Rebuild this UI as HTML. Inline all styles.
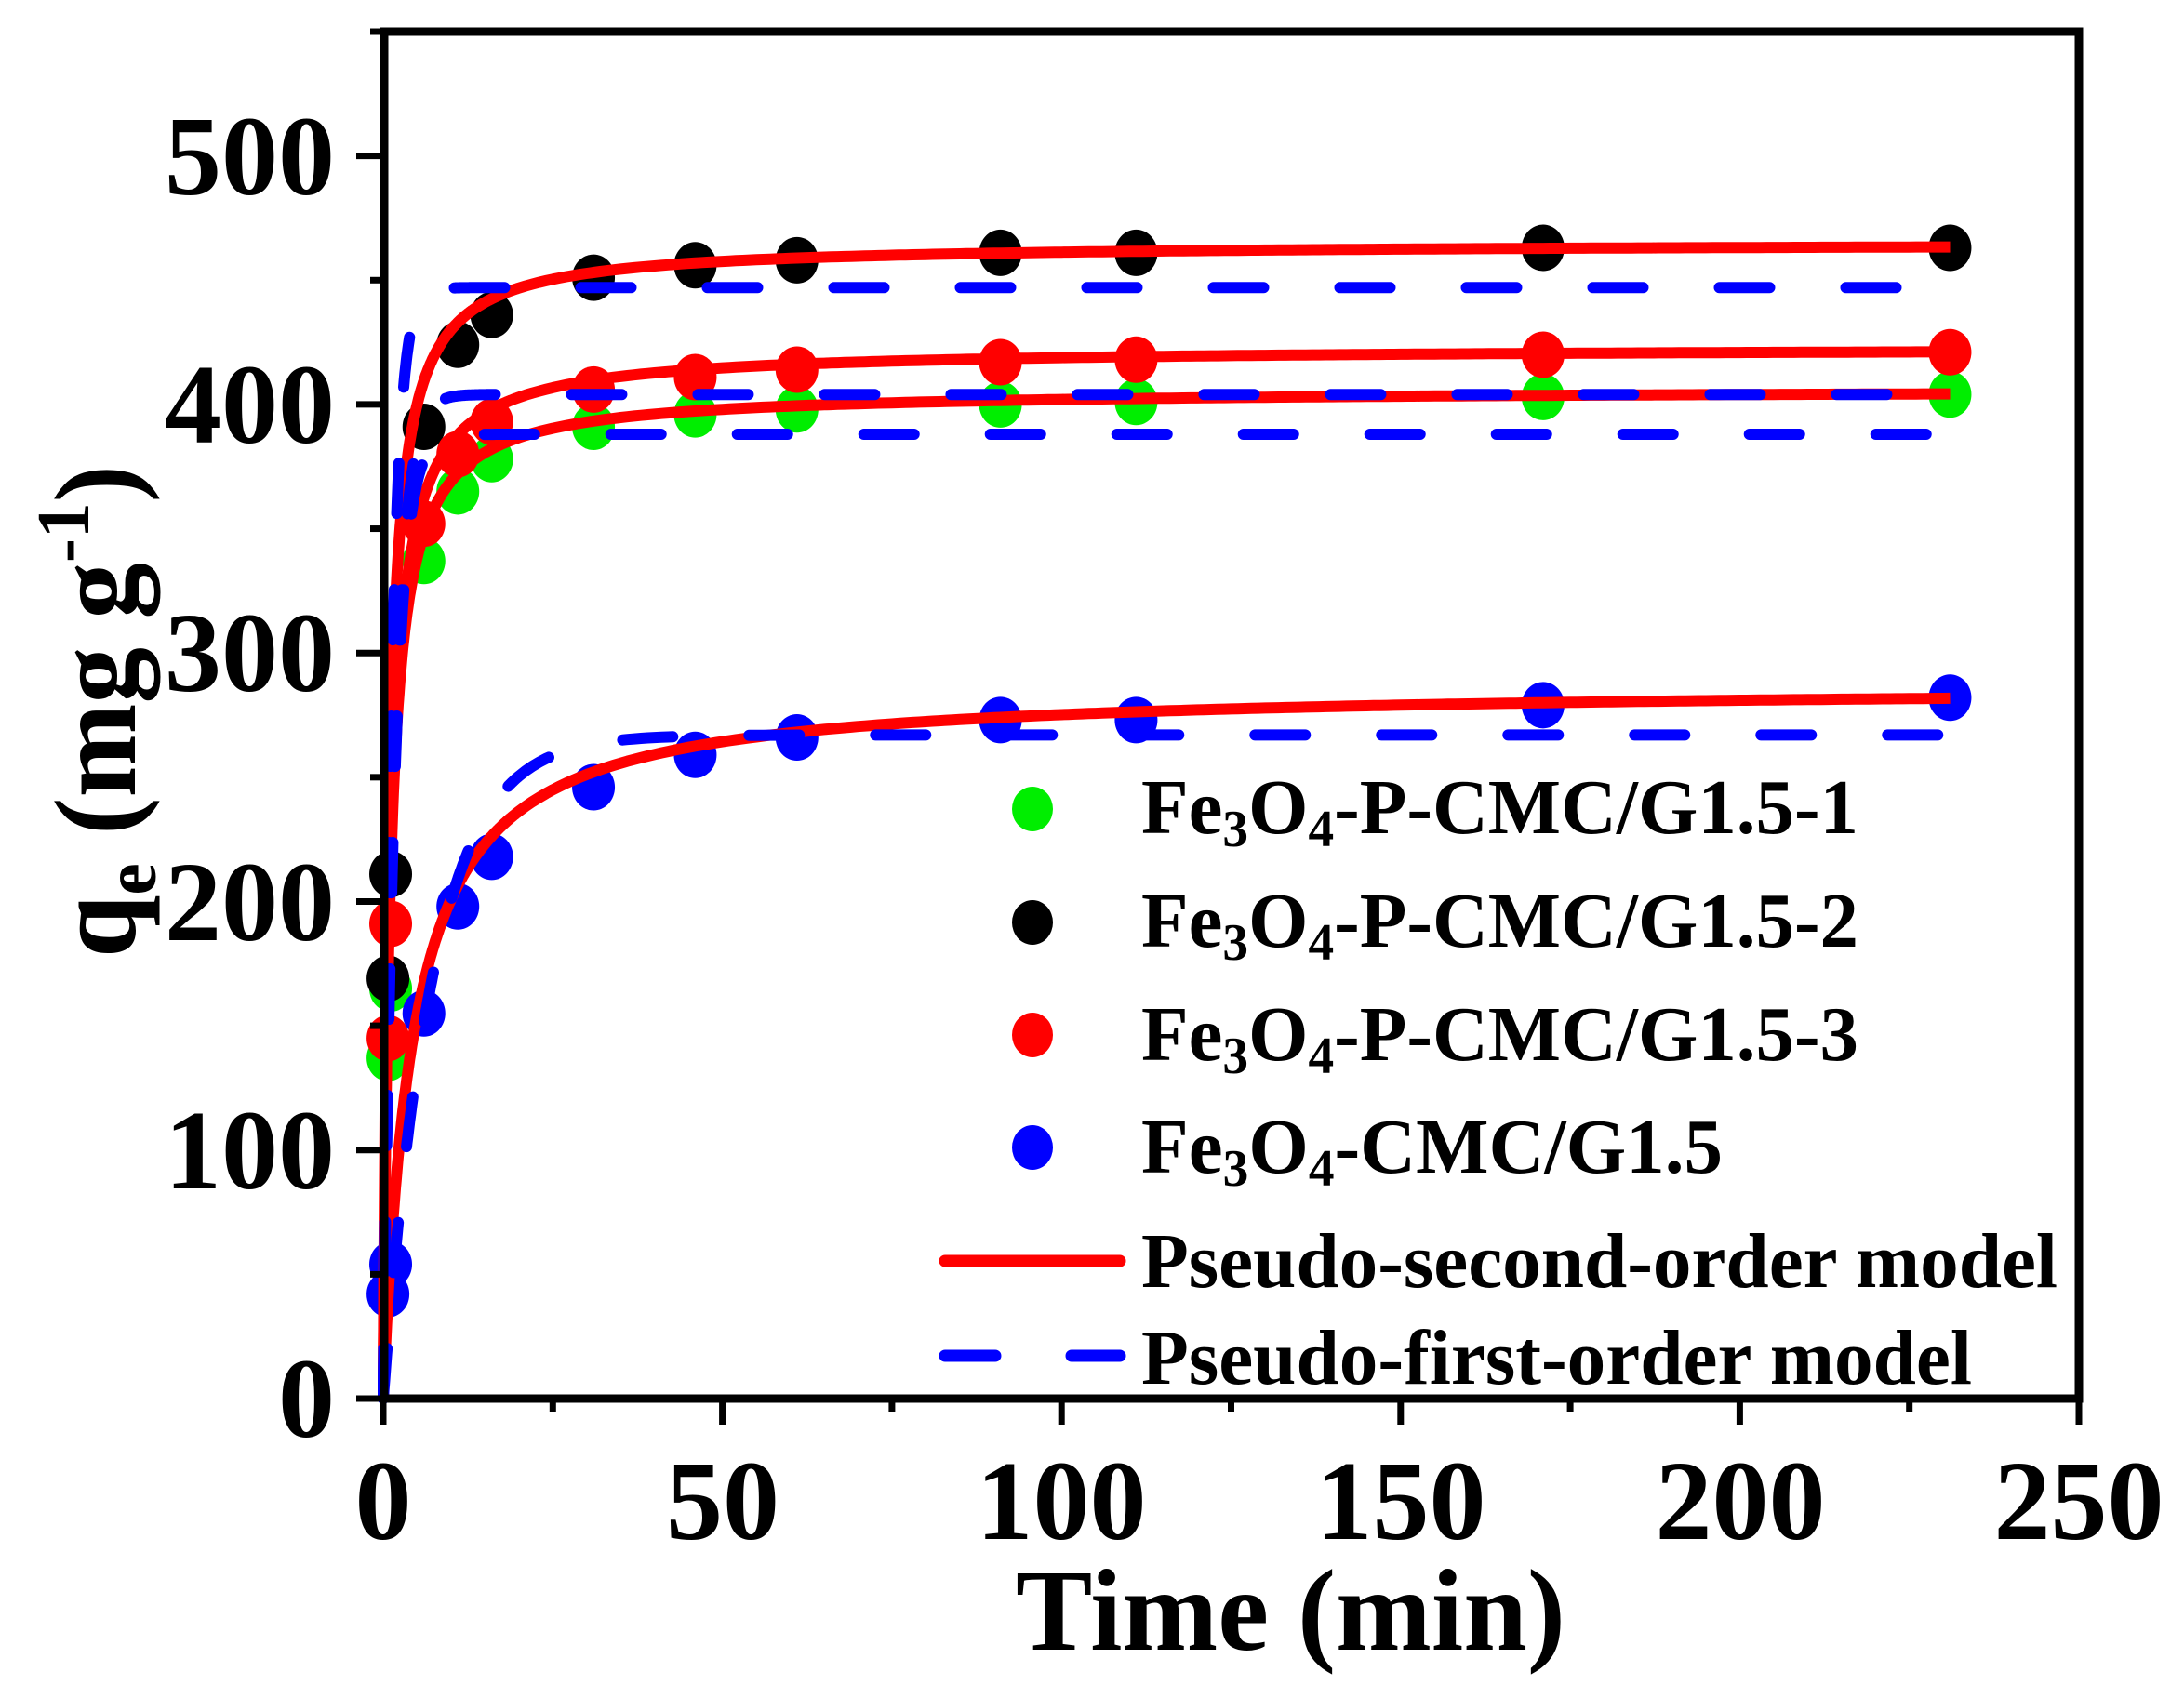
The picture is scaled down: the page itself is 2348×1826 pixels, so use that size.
<!DOCTYPE html>
<html><head><meta charset="utf-8"><style>
html,body{margin:0;padding:0;background:#fff;}
svg{display:block;}
text{font-family:"Liberation Serif",serif;font-weight:bold;fill:#000;}
</style></head><body>
<svg id="s" width="2348" height="1826" viewBox="0 0 2348 1826" xmlns="http://www.w3.org/2000/svg">
<g id="data"></g>
<g id="axes" stroke="#000" stroke-width="9" fill="none">
<rect x="413" y="34" width="1822" height="1470"/>
</g>
<g id="ticks" stroke="#000" stroke-width="7"></g>
<g font-size="122" text-anchor="end">
<text x="360" y="1545">0</text>
<text x="360" y="1278">100</text>
<text x="360" y="1011">200</text>
<text x="360" y="743">300</text>
<text x="360" y="476">400</text>
<text x="360" y="209">500</text>
</g>
<g font-size="122" text-anchor="middle">
<text x="412" y="1655">0</text>
<text x="777" y="1655">50</text>
<text x="1141" y="1655">100</text>
<text x="1506" y="1655">150</text>
<text x="1871" y="1655">200</text>
<text x="2235" y="1655">250</text>
</g>
<text x="1092" y="1774" font-size="125" textLength="591" lengthAdjust="spacingAndGlyphs">Time (min)</text>
<text transform="translate(145,1030) rotate(-90)" font-size="125" textLength="530" lengthAdjust="spacingAndGlyphs">q<tspan font-size="80" dy="22">e</tspan><tspan dy="-22"> (mg g</tspan><tspan font-size="80" dy="-50">-1</tspan><tspan dy="50">)</tspan></text>
<g id="legend">
<ellipse cx="1110" cy="870" rx="22" ry="24" fill="#00ee00"/>
<ellipse cx="1110" cy="992" rx="22" ry="24" fill="#000"/>
<ellipse cx="1110" cy="1113" rx="22" ry="24" fill="#ff0000"/>
<ellipse cx="1110" cy="1234" rx="22" ry="24" fill="#0000ff"/>
<line x1="1016" y1="1356" x2="1204" y2="1356" stroke="#ff0000" stroke-width="13" stroke-linecap="round"/>
<line x1="1016" y1="1458" x2="1204" y2="1458" stroke="#0000ff" stroke-width="13" stroke-linecap="round" stroke-dasharray="54 82"/>
</g>
<g font-size="84">
<text x="1227" y="896" textLength="771" lengthAdjust="spacingAndGlyphs">Fe<tspan font-size="56" dy="14">3</tspan><tspan dy="-14">O</tspan><tspan font-size="56" dy="14">4</tspan><tspan dy="-14">-P-CMC/G1.5-1</tspan></text>
<text x="1227" y="1018" textLength="771" lengthAdjust="spacingAndGlyphs">Fe<tspan font-size="56" dy="14">3</tspan><tspan dy="-14">O</tspan><tspan font-size="56" dy="14">4</tspan><tspan dy="-14">-P-CMC/G1.5-2</tspan></text>
<text x="1227" y="1140" textLength="771" lengthAdjust="spacingAndGlyphs">Fe<tspan font-size="56" dy="14">3</tspan><tspan dy="-14">O</tspan><tspan font-size="56" dy="14">4</tspan><tspan dy="-14">-P-CMC/G1.5-3</tspan></text>
<text x="1227" y="1261" textLength="625" lengthAdjust="spacingAndGlyphs">Fe<tspan font-size="56" dy="14">3</tspan><tspan dy="-14">O</tspan><tspan font-size="56" dy="14">4</tspan><tspan dy="-14">-CMC/G1.5</tspan></text>
<text x="1227" y="1384" textLength="985" lengthAdjust="spacingAndGlyphs">Pseudo-second-order model</text>
<text x="1227" y="1488" textLength="893" lengthAdjust="spacingAndGlyphs">Pseudo-first-order model</text>
</g>
</svg>
<script>
(function(){
var NS="http://www.w3.org/2000/svg";
function X(t){return 412+7.292*t;}
function Y(v){return 1504-2.6727*v;}
function el(n,a,p){var e=document.createElementNS(NS,n);for(var k in a)e.setAttribute(k,a[k]);p.appendChild(e);return e;}
var tk=document.getElementById('ticks');
for(var v=0;v<=550;v+=50){var maj=v%100==0;el('line',{x1:maj?383:398,x2:413,y1:Y(v),y2:Y(v)},tk);}
for(var t=0;t<=250;t+=25){var maj=t%50==0;el('line',{x1:X(t),x2:X(t),y1:1504,y2:maj?1532:1518},tk);}
var d=document.getElementById('data');
var S=[
 {c:"#00ee00",v:[137,165,337,365,378,391,396,398,400,401,403,404]},
 {c:"#000",v:[169,211,391,424,436,451,456,458,461,461,463,463]},
 {c:"#ff0000",v:[145,191,352,380,393,406,411,414,417,418,420,421]},
 {c:"#0000ff",v:[42,54,155,198,218,246,259,266,273,273,279,282]}
];
var TT=[0.7,1.1,6,11,16,31,46,61,91,111,171,231];
S.forEach(function(s){s.v.forEach(function(v,i){el('ellipse',{cx:X(TT[i]),cy:Y(v),rx:23,ry:25,fill:s.c},d);});});
function path(f){var p="";for(var t=0;t<=231;t+= (t<20?0.1:1)){p+=(p?"L":"M")+X(t).toFixed(1)+","+Y(f(t)).toFixed(1);}return p;}
var pfo=[[447,0.8],[388,0.6],[404,0.6],[267,0.139]];
var pso=[[465,1.23],[406,1.0],[423,1.0],[287,0.233]];
pso.forEach(function(q){el('path',{d:path(function(t){return q[0]*q[1]*t/(1+q[1]*t);}),stroke:"#ff0000","stroke-width":12,fill:"none","stroke-linejoin":"round"},d);});
pfo.forEach(function(q){el('path',{d:path(function(t){return q[0]*(1-Math.exp(-q[1]*t));}),stroke:"#0000ff","stroke-width":12,fill:"none","stroke-linecap":"round","stroke-dasharray":"54 82"},d);});
})();
</script>
</body></html>
